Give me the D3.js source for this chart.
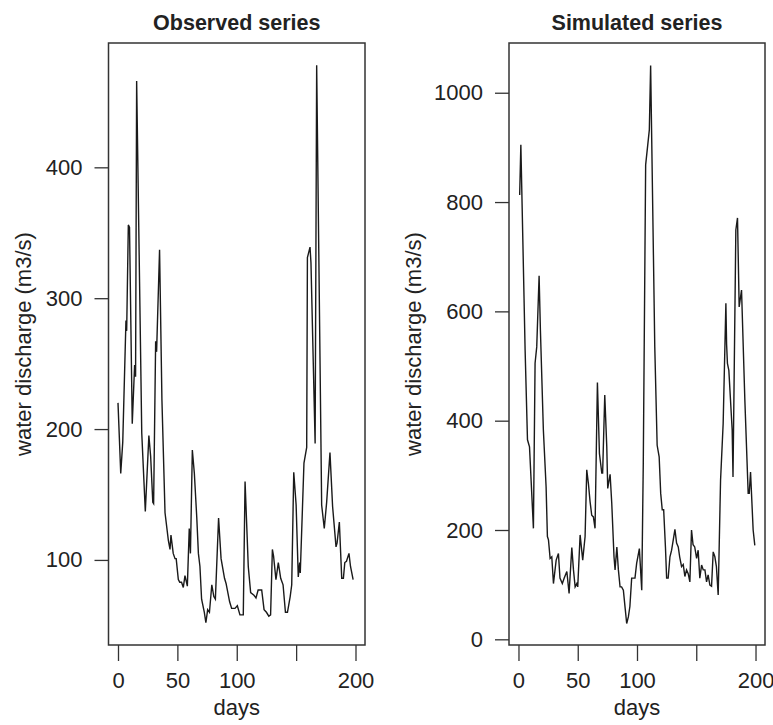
<!DOCTYPE html>
<html>
<head>
<meta charset="utf-8">
<script src="https://cdn.jsdelivr.net/npm/d3@7/dist/d3.min.js"></script>
<style>
  body { margin: 0; background: #fff; }
  svg text { font-family: "Liberation Sans", Arial, sans-serif; fill: #222; }
</style>
</head>
<body>
<div id="wrapper"></div>
<script>
// observed discharge
const obsDays = [0, 2.3, 4, 6.7, 7.3, 8.7, 9.7, 12, 14, 14.8, 15.7, 20, 23, 26, 27.5, 29.3, 30,
  31.7, 32.5, 35, 37, 39.6, 42.4, 43.8, 44.6, 46.5, 48, 49, 50.8, 52, 53.5, 55, 56.4, 58.4,
  60, 61, 62.6, 64.3, 66.3, 67.7, 69, 70.4, 72.7, 74, 75.5, 77, 79, 80.7, 82, 84.7, 86.8,
  89.7, 91, 94, 95.7, 98.5, 100.5, 102.7, 105.5, 107, 109.7, 111.7, 114.5, 116.2, 118, 121,
  123, 125, 127, 128.5, 130, 131, 133, 135, 137, 139, 141, 142.7, 145, 146.3, 148, 150,
  151.8, 153, 153.5, 156.6, 158.9, 159.5, 161.7, 162.5, 166, 167.3, 171.5, 173.7, 175.7,
  178.5, 180.7, 183.6, 184.5, 186.4, 188.4, 189.8, 191, 192.4, 194.5, 195.8, 198]
const obsFlow = [220, 166, 190, 283, 275, 356, 354, 204, 249, 240, 466, 197, 137, 195, 179, 144, 143,
  267, 259, 337, 222, 136, 115, 108, 119, 105, 101, 101, 85, 83, 83, 79, 88, 80,
  124, 105, 184, 166, 133, 105, 95, 70, 60, 52, 62, 60, 81, 72, 70, 132, 101,
  86, 82, 68, 63, 63, 65, 58, 58, 160, 95, 75, 73, 71, 77, 77,
  62, 60, 57, 58, 108, 103, 85, 98, 86, 81, 60, 60, 72, 81, 167, 142,
  87, 98, 90, 174, 186, 331, 339, 327, 189, 478, 142, 124, 144,
  182, 141, 110, 113, 129, 86, 86, 98, 99, 105, 95, 85]

// simulated discharge
const simDays = [1, 2, 5.6, 7.6, 9.3, 12.6, 14, 15.4, 17.4, 18.5, 21, 23.3, 24.4, 25.3, 26.7, 28.1,
  29.5, 31.8, 33.7, 35, 37, 38.6, 40.8, 42.7, 45, 46.4, 47.8, 49.2, 50, 52, 54.2, 56.2, 57.6,
  59, 60.4, 61.8, 63.2, 64.6, 66.6, 68.3, 70.3, 71, 72.8, 74.5, 75.3, 77.3, 78.7, 80.6, 81.5,
  83, 84.3, 85.7, 87, 88.5, 90, 91.3, 92.7, 94, 95.5, 98.3, 99.7, 102, 104, 105.3, 107.3,
  110.4, 111.5, 115, 117, 118.7, 120, 121.3, 122.5, 124, 125, 126.3, 127.8, 129.2, 130.6,
  132, 133.4, 134.8, 136, 137.6, 139, 140.4, 141.8, 143.2, 144.6, 146, 147.3, 148.7, 150.3,
  151.6, 153, 154.5, 155.9, 157.3, 158.7, 160, 161.5, 162.9, 164.3, 165.7, 167, 168.5, 170.5,
  172.7, 175, 175.6, 176.3, 177.5, 180.3, 181, 183.4, 184.8, 186.2, 188.2, 191, 193.8, 194.7,
  195.8, 198, 199.4]
const simFlow = [813, 905, 529, 365, 352, 203, 505, 535, 665, 566, 383, 279, 188, 182, 148, 151,
  102, 145, 157, 112, 102, 112, 124, 84, 168, 127, 96, 102, 96, 191, 145, 188, 310,
  285, 252, 227, 224, 203, 470, 340, 304, 304, 447, 352, 276, 302, 249, 151, 127,
  169, 127, 96, 96, 90, 57, 29, 41, 60, 112, 112, 139, 166, 90, 322, 868,
  932, 1050, 535, 355, 334, 267, 237, 237, 169, 112, 112, 151, 163, 182,
  201, 176, 169, 151, 133, 137, 115, 127, 120, 105, 200, 173, 169, 148,
  163, 112, 136, 127, 127, 105, 118, 99, 97, 160, 151, 133, 81, 291,
  395, 615, 540, 505, 492, 383, 297, 749, 771, 608, 639, 438, 267, 267,
  306, 200, 172]

const dayTicks = [0, 50, 100, 150, 200]
const obsTicks = [100, 200, 300, 400]
const simTicks = [0, 200, 400, 600, 800, 1000]

function drawChart() {
  const dimensions = {
    width: 773,
    height: 725,
    top: 43,
    bottom: 645,
  }

  const wrapper = d3.select("#wrapper")
    .append("svg")
      .attr("width", dimensions.width)
      .attr("height", dimensions.height)

  const panels = [
    { title: "Observed series", days: obsDays, flow: obsFlow, ticks: obsTicks,
      left: 108.5, right: 365, yDomain: [35, 495], labelX: 31 },
    { title: "Simulated series", days: simDays, flow: simFlow, ticks: simTicks,
      left: 509, right: 765, yDomain: [-10.4, 1091], labelX: 421 },
  ]

  panels.forEach(p => drawPanel(wrapper, dimensions, p))
}

function drawPanel(wrapper, dimensions, p) {
  const data = p.days.map((d, i) => ({ day: d, flow: p.flow[i] }))

  // create scales
  const xScale = d3.scaleLinear()
    .domain([-8, 208])
    .range([p.left, p.right])

  const yScale = d3.scaleLinear()
    .domain(p.yDomain)
    .range([dimensions.bottom, dimensions.top])

  const g = wrapper.append("g")

  // draw data
  const lineGenerator = d3.line()
    .x(d => xScale(d.day))
    .y(d => yScale(d.flow))

  g.append("path")
    .attr("d", lineGenerator(data))
    .attr("fill", "none")
    .attr("stroke", "#1a1a1a")
    .attr("stroke-width", 1.4)

  // box
  g.append("rect")
    .attr("x", p.left)
    .attr("y", dimensions.top)
    .attr("width", p.right - p.left)
    .attr("height", dimensions.bottom - dimensions.top)
    .attr("fill", "none")
    .attr("stroke", "#333")
    .attr("stroke-width", 1.5)

  // draw peripherals
  const xAxisGenerator = d3.axisBottom(xScale)
    .tickValues(dayTicks)
    .tickFormat(d => d == 150 ? "" : d)
    .tickSize(16)
    .tickPadding(11)

  const xAxis = g.append("g")
    .call(xAxisGenerator)
      .attr("transform", `translate(0, ${dimensions.bottom})`)
  xAxis.select(".domain").remove()

  const yAxisGenerator = d3.axisLeft(yScale)
    .tickValues(p.ticks)
    .tickFormat(d3.format("d"))
    .tickSize(14)
    .tickPadding(12)

  const yAxis = g.append("g")
    .call(yAxisGenerator)
      .attr("transform", `translate(${p.left}, 0)`)
  yAxis.select(".domain").remove()

  g.selectAll(".tick line")
    .attr("stroke", "#333")
    .attr("stroke-width", 1.3)
  g.selectAll(".tick text")
    .attr("font-size", 22)
    .attr("font-family", null)
    .attr("fill", "#222")

  g.append("text")
    .attr("x", (p.left + p.right) / 2)
    .attr("y", 30)
    .attr("text-anchor", "middle")
    .attr("font-size", 21.5)
    .attr("font-weight", "bold")
    .text(p.title)

  g.append("text")
    .attr("x", (p.left + p.right) / 2)
    .attr("y", 715)
    .attr("text-anchor", "middle")
    .attr("font-size", 22)
    .text("days")

  g.append("text")
    .attr("transform", `translate(${p.labelX}, ${(dimensions.top + dimensions.bottom) / 2}) rotate(-90)`)
    .attr("text-anchor", "middle")
    .attr("font-size", 22)
    .text("water discharge (m3/s)")
}

drawChart()
</script>
</body>
</html>
